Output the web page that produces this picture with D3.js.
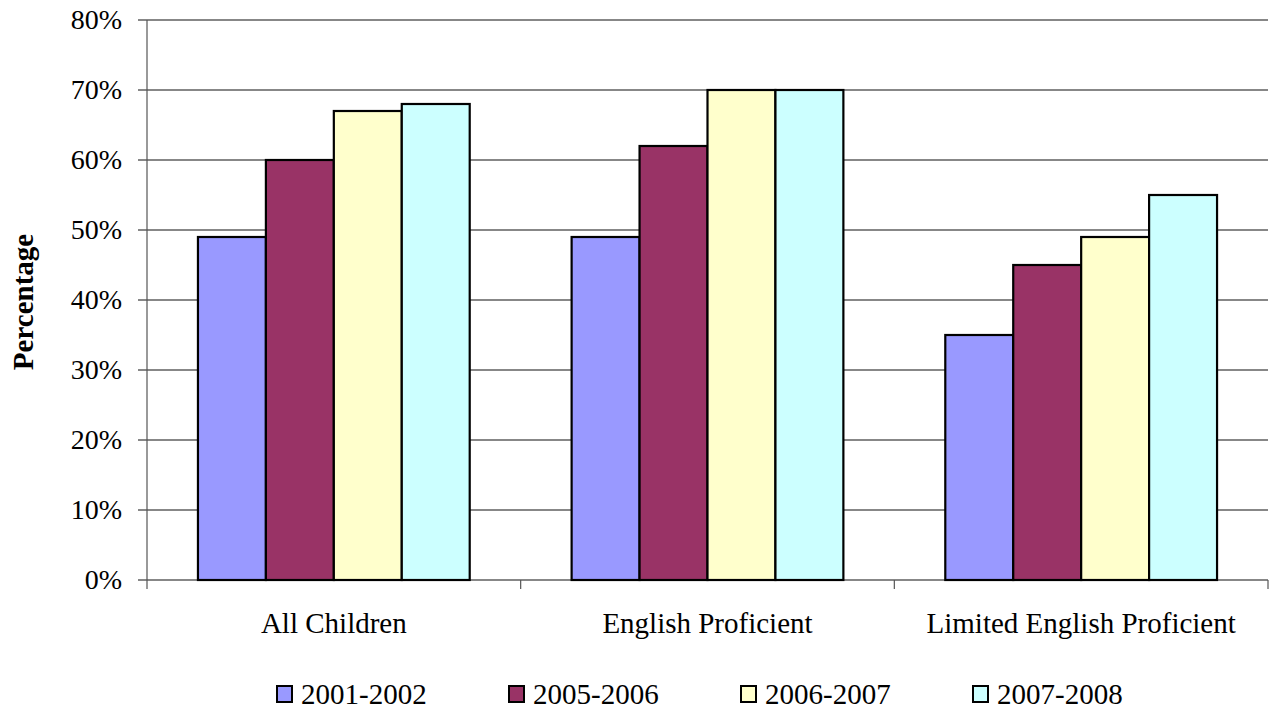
<!DOCTYPE html>
<html>
<head>
<meta charset="utf-8">
<script src="https://cdn.jsdelivr.net/npm/d3@7/dist/d3.min.js"></script>
<style>
  html, body { margin: 0; padding: 0; background: #fff; }
  svg text { font-family: "Liberation Serif", "Times New Roman", serif; fill: #000; }
</style>
</head>
<body>
<svg id="chart" width="1269" height="709"></svg>
<script>
const categories = ["All Children", "English Proficient", "Limited English Proficient"];
const seriesNames = ["2001-2002", "2005-2006", "2006-2007", "2007-2008"];
const seriesColors = ["#9999ff", "#993366", "#ffffcc", "#ccffff"];
const v2001_2002 = [49, 49, 35];
const v2005_2006 = [60, 62, 45];
const v2006_2007 = [67, 70, 49];
const v2007_2008 = [68, 70, 55];
const seriesValues = [v2001_2002, v2005_2006, v2006_2007, v2007_2008];
const yTicks = [0, 10, 20, 30, 40, 50, 60, 70, 80];

const svg = d3.select("#chart");
const plot = { left: 147, right: 1268, top: 20, bottom: 580 };

const x0 = d3.scaleBand().domain(categories).range([plot.left, plot.right]).paddingInner(0).paddingOuter(0);
const x1 = d3.scaleBand().domain(seriesNames).range([0, x0.bandwidth()]).paddingInner(0).paddingOuter(0.75);
const y = d3.scaleLinear().domain([0, 80]).range([plot.bottom, plot.top]);

// horizontal gridlines with left tick marks
svg.append("g")
  .selectAll("line")
  .data(yTicks)
  .join("line")
  .attr("x1", plot.left - 9)
  .attr("x2", plot.right)
  .attr("y1", d => y(d))
  .attr("y2", d => y(d))
  .attr("stroke", "#111")
  .attr("stroke-width", 1.1);

// y tick labels
svg.append("g")
  .selectAll("text")
  .data(yTicks)
  .join("text")
  .attr("x", 122)
  .attr("y", d => y(d))
  .attr("dy", "0.33em")
  .attr("text-anchor", "end")
  .attr("font-size", 28)
  .text(d => d + "%");

// bars
const groups = svg.append("g")
  .selectAll("g")
  .data(categories)
  .join("g")
  .attr("transform", c => `translate(${x0(c)},0)`);

groups.selectAll("rect")
  .data((c, i) => seriesNames.map((s, k) => ({ s, v: seriesValues[k][i], color: seriesColors[k] })))
  .join("rect")
  .attr("x", d => x1(d.s))
  .attr("y", d => y(d.v))
  .attr("width", x1.bandwidth())
  .attr("height", d => y(0) - y(d.v))
  .attr("fill", d => d.color)
  .attr("stroke", "#000")
  .attr("stroke-width", 2.2);

// y axis line
svg.append("line")
  .attr("x1", plot.left).attr("x2", plot.left)
  .attr("y1", plot.top).attr("y2", plot.bottom + 9)
  .attr("stroke", "#555").attr("stroke-width", 1.2);

// category separator ticks
const sepTicks = categories.map(c => x0(c)).concat([plot.right]);
svg.append("g")
  .selectAll("line")
  .data(sepTicks.slice(1))
  .join("line")
  .attr("x1", d => d).attr("x2", d => d)
  .attr("y1", plot.bottom).attr("y2", plot.bottom + 9)
  .attr("stroke", "#555").attr("stroke-width", 1.2);

// category labels
svg.append("g")
  .selectAll("text")
  .data(categories)
  .join("text")
  .attr("x", c => x0(c) + x0.bandwidth() / 2)
  .attr("y", 633)
  .attr("text-anchor", "middle")
  .attr("font-size", 29)
  .text(c => c);

// y axis title
svg.append("text")
  .attr("transform", `translate(33,302) rotate(-90)`)
  .attr("text-anchor", "middle")
  .attr("font-size", 29)
  .attr("font-weight", "bold")
  .text("Percentage");

// legend
const legend = svg.append("g")
  .selectAll("g")
  .data(seriesNames)
  .join("g")
  .attr("transform", (s, i) => `translate(${277 + i * 232},686)`);

legend.append("rect")
  .attr("x", 0).attr("y", 0)
  .attr("width", 15).attr("height", 16)
  .attr("fill", (s, i) => seriesColors[i])
  .attr("stroke", "#000").attr("stroke-width", 2);

legend.append("text")
  .attr("x", 24)
  .attr("y", 8)
  .attr("dy", "0.36em")
  .attr("font-size", 29)
  .text(s => s);
</script>
</body>
</html>
